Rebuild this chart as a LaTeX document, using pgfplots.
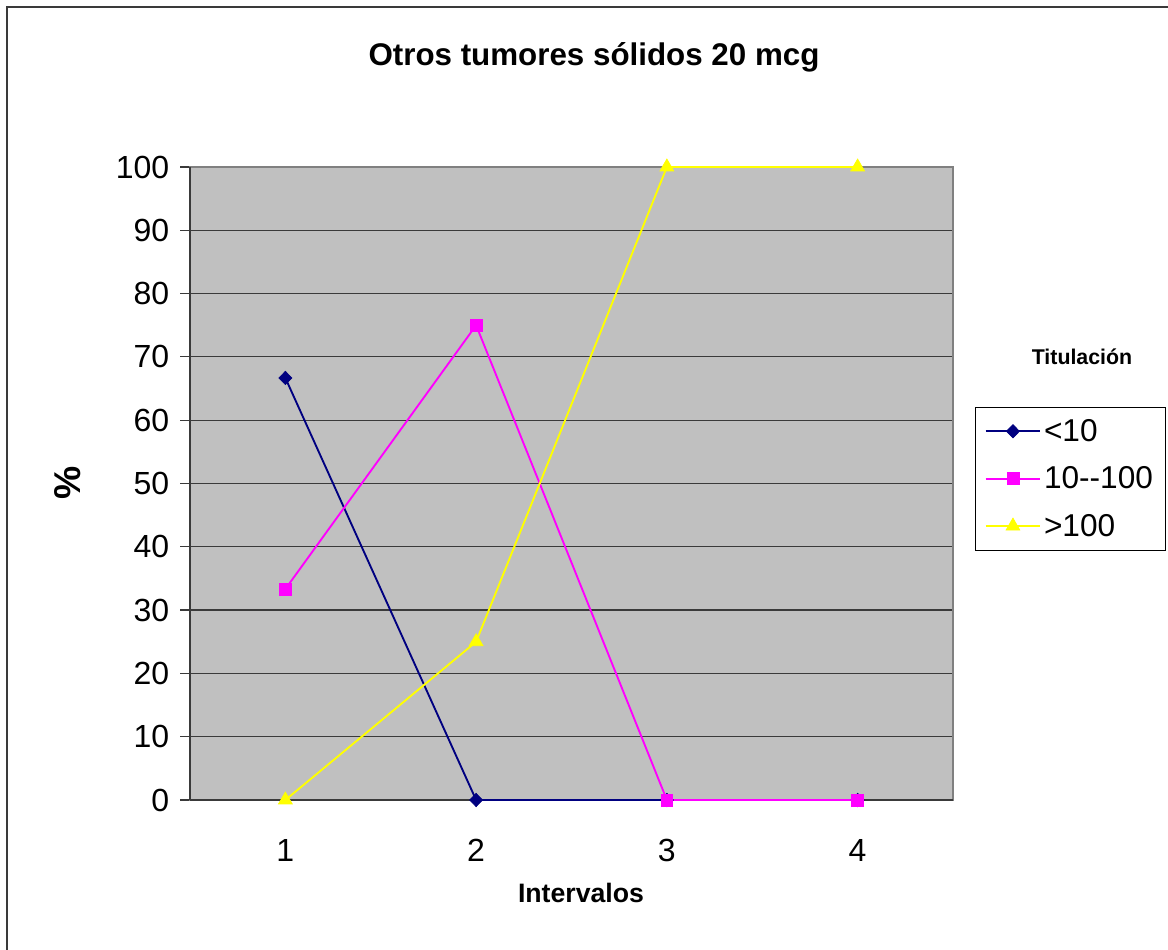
\documentclass[border=0pt]{standalone}
\usepackage{fontspec}
\setmainfont{Liberation Sans}
\usepackage{pgfplots}
\pgfplotsset{compat=1.18}
\definecolor{plotbg}{HTML}{C0C0C0}
\definecolor{bordergray}{HTML}{808080}
\definecolor{gridc}{HTML}{3A3A3A}
\definecolor{navyc}{HTML}{000080}
\definecolor{magc}{HTML}{FF00FF}
\definecolor{yelc}{HTML}{FFFF00}
\begin{document}
\begin{tikzpicture}
\useasboundingbox (0,0) rectangle (876pt,712.5pt);
\fill[white] (0,0) rectangle (876pt,712.5pt);
\draw[line width=1.5pt, color=gridc] (5.25pt,-20pt) -- (5.25pt,707.25pt) -- (900pt,707.25pt);
\begin{axis}[
  at={(142.5pt,112.5pt)}, anchor=south west,
  width=572.25pt, height=474.75pt, scale only axis,
  xmin=0.5, xmax=4.5, ymin=0, ymax=100,
  xtick={1,2,3,4},
  minor xtick={0.5,1.5,2.5,3.5,4.5},
  ytick={0,10,...,100},
  xtick pos=bottom, ytick pos=left,
  tick align=outside,
  major tick length=7.5pt,
  minor tick length=7.5pt,
  xtick style={draw=none},
  minor tick style={color=gridc, line width=0.9pt},
  ytick style={color=gridc, line width=0.9pt},
  ymajorgrids,
  major grid style={color=gridc, line width=0.9pt},
  axis background/.style={fill=plotbg},
  axis line style={draw=bordergray, line width=1.1pt},
  clip=false,
  /pgf/number format/assume math mode=true,
  tick label style={font=\fontsize{24}{28}\selectfont},
  xticklabel style={anchor=center, yshift=-30pt},
  yticklabel style={anchor=east, xshift=-4.5pt},
  legend style={at={(1.0288,0.6209)}, anchor=north west, draw=black,
    fill=white, font=\fontsize{23.7}{27}\selectfont, row sep=13.5pt, inner xsep=7pt, inner ysep=7pt,
    cells={anchor=west, inner xsep=6pt}},
  legend image code/.code={\draw[mark repeat=2,mark phase=2,line width=1.4pt,#1] plot coordinates {(0pt,0pt) (20.6pt,0pt) (41.2pt,0pt)};},
]
\draw[color=gridc, line width=1.1pt] (rel axis cs:0,0) -- (rel axis cs:0,1);
\draw[color=gridc, line width=1.1pt] (rel axis cs:0,0) -- (rel axis cs:1,0);
\addplot[color=navyc, line width=1.4pt, mark=diamond*, mark size=5pt, mark options={xscale=1.3, fill=navyc, draw=navyc, line width=0.5pt}]
  coordinates {(1,66.67) (2,0) (3,0) (4,0)};
\addlegendentry{<10}
\addplot[color=magc, line width=1.4pt, mark=square*, mark size=4.4pt, mark options={fill=magc, draw=magc, line width=0.5pt}]
  coordinates {(1,33.33) (2,75) (3,0) (4,0)};
\addlegendentry{10-{}-100}
\addplot[color=yelc, line width=1.4pt, mark=triangle*, mark size=6pt, mark options={fill=yelc, draw=yelc, line width=0.5pt}]
  coordinates {(1,0) (2,25) (3,100) (4,100)};
\addlegendentry{>100}
\end{axis}
\node[font=\fontsize{23.5}{28}\selectfont\bfseries] at (445.5pt,669.75pt) {Otros tumores sólidos 20 mcg};
\node[font=\fontsize{28}{32}\selectfont\bfseries, rotate=90] at (51pt,350.25pt) {\%};
\node[font=\fontsize{20}{24}\selectfont\bfseries] at (435.75pt,42.75pt) {Intervalos};
\node[font=\fontsize{16}{20}\selectfont\bfseries] at (811.5pt,444.75pt) {Titulación};
\end{tikzpicture}
\end{document}
